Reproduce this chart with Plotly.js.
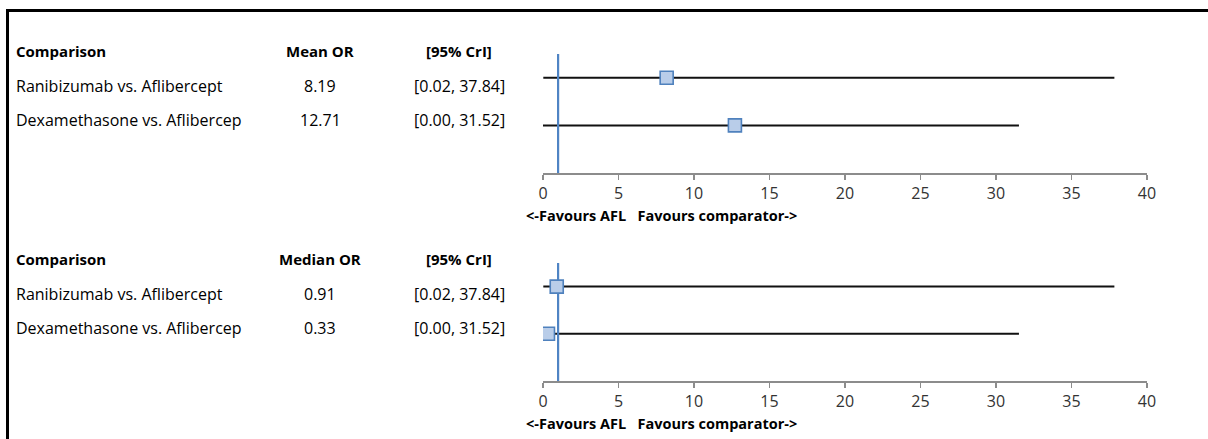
<!DOCTYPE html>
<html>
<head>
<meta charset="utf-8">
<script src="https://cdn.plot.ly/plotly-3.0.1.min.js"></script>
<style>
  html, body { margin: 0; padding: 0; background: #fff; overflow: hidden; }
  #wrap { position: relative; width: 1208px; height: 439px; }
  #chart { width: 1208px; height: 439px; }
  #frame { position: absolute; left: 6px; top: 9px; width: 1210px; height: 440px;
           border-top: 3px solid #000; border-left: 3px solid #000; pointer-events: none; }
</style>
</head>
<body>
<div id="wrap"><div id="chart"></div><div id="frame"></div></div>
<script>
// ---- data ----
const comparisons = ["Ranibizumab vs. Aflibercept", "Dexamethasone vs. Aflibercep"];
const meanOR = [8.19, 12.71];
const medianOR = [0.91, 0.33];
const crLow = [0.02, 0.00];
const crHigh = [37.84, 31.52];
const crLabels = ["[0.02, 37.84]", "[0.00, 31.52]"];
const nullLine = 1;
const xTicks = [0, 5, 10, 15, 20, 25, 30, 35, 40];
const axisCaption = "<-Favours AFL\u00a0\u00a0\u00a0Favours comparator->";
const panels = [
  { stat: "Mean OR", values: meanOR },
  { stat: "Median OR", values: medianOR }
];

// ---- layout helpers ----
const W = 1208, H = 439;
const px = v => v / W;
const py = v => 1 - v / H;
const FONT = "'Open Sans', Lato, sans-serif";
const panelGeom = [
  { top: 54, bottom: 173, hdr: 51, rows: [86, 120], cap: 215 },
  { top: 263, bottom: 381, hdr: 259, rows: [294, 328], cap: 423 }
];
const xLeft = 543, xRight = 1147;

const traces = [];
const layout = {
  width: W, height: H,
  margin: { l: 0, r: 0, t: 0, b: 0 },
  paper_bgcolor: "#fff", plot_bgcolor: "rgba(0,0,0,0)",
  showlegend: false,
  font: { family: FONT, size: 15, color: "#222" },
  annotations: []
};

panels.forEach((p, k) => {
  const g = panelGeom[k];
  const xa = k === 0 ? "x" : "x2";
  const ya = k === 0 ? "y" : "y2";
  const n = comparisons.length;
  const ys = comparisons.map((c, i) => n - i + 1);

  // whiskers (credible intervals)
  traces.push({
    type: "scatter", mode: "markers", xaxis: xa, yaxis: ya,
    x: p.values, y: ys,
    marker: { size: 1, color: "rgba(0,0,0,0)" },
    error_x: {
      type: "data", symmetric: false,
      array: p.values.map((v, i) => crHigh[i] - v),
      arrayminus: p.values.map((v, i) => v - crLow[i]),
      color: "#111", thickness: 2, width: 0
    },
    hoverinfo: "skip"
  });
  // null line
  traces.push({
    type: "scatter", mode: "lines", xaxis: xa, yaxis: ya,
    x: [nullLine, nullLine], y: [1, n + 1.5],
    line: { color: "#4f84c4", width: 2.2 },
    hoverinfo: "skip"
  });
  // point estimates
  traces.push({
    type: "scatter", mode: "markers", xaxis: xa, yaxis: ya,
    x: p.values, y: ys,
    marker: { symbol: "square", size: 13, color: "#b9cde9", line: { color: "#4f81bd", width: 1.6 } }
  });

  const axKey = k === 0 ? "xaxis" : "xaxis2";
  const ayKey = k === 0 ? "yaxis" : "yaxis2";
  layout[axKey] = {
    domain: [px(xLeft), px(xRight)],
    anchor: ya,
    range: [0, 40],
    tickvals: xTicks,
    ticktext: xTicks.map(String),
    ticks: "outside", ticklen: 5, tickwidth: 1.5, tickcolor: "#8c8c8c",
    showline: true, linecolor: "#8c8c8c", linewidth: 1.8,
    showgrid: false, zeroline: false,
    tickfont: { family: FONT, size: 16, color: "#333" },
    fixedrange: true
  };
  layout[ayKey] = {
    domain: [py(g.bottom), py(g.top)],
    anchor: xa,
    range: [1, n + 1.5],
    visible: false, showgrid: false, zeroline: false,
    fixedrange: true
  };

  // table headers
  const hdrs = [
    { text: "<b>Comparison</b>", x: 14, anchor: "left" },
    { text: "<b>" + p.stat + "</b>", x: 320, anchor: "center" },
    { text: "<b>[95% CrI]</b>", x: 459, anchor: "center" }
  ];
  hdrs.forEach(h => layout.annotations.push({
    xref: "paper", yref: "paper", x: px(h.x), y: py(g.hdr),
    xanchor: h.anchor, yanchor: "middle", showarrow: false,
    text: h.text, font: { family: FONT, size: 15, color: "#000" }
  }));
  // table rows
  comparisons.forEach((c, i) => {
    const yy = py(g.rows[i]);
    layout.annotations.push(
      { xref: "paper", yref: "paper", x: px(14), y: yy, xanchor: "left", yanchor: "middle", showarrow: false,
        text: c, font: { family: FONT, size: 16, color: "#000" } },
      { xref: "paper", yref: "paper", x: px(320), y: yy, xanchor: "center", yanchor: "middle", showarrow: false,
        text: p.values[i].toFixed(2), font: { family: FONT, size: 16, color: "#000" } },
      { xref: "paper", yref: "paper", x: px(459), y: yy, xanchor: "center", yanchor: "middle", showarrow: false,
        text: crLabels[i], font: { family: FONT, size: 16, color: "#000" } }
    );
  });
  // axis caption
  layout.annotations.push({
    xref: "paper", yref: "paper", x: px(524), y: py(g.cap),
    xanchor: "left", yanchor: "middle", showarrow: false,
    text: "<b>" + axisCaption.replace(/</g, "&lt;").replace(/>/g, "&gt;") + "</b>",
    font: { family: FONT, size: 14.5, color: "#000" }
  });
});

Plotly.newPlot("chart", traces, layout, { staticPlot: true, displayModeBar: false });
</script>
</body>
</html>
